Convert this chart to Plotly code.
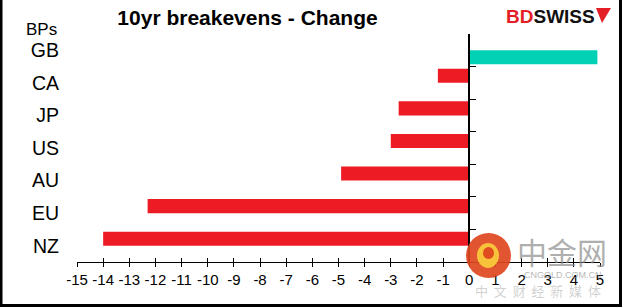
import plotly.graph_objects as go

categories = ["GB", "CA", "JP", "US", "AU", "EU", "NZ"]
values = [4.9, -1.2, -2.7, -3.0, -4.9, -12.3, -14.0]
x_ticks = list(range(-15, 6))
title_text = "10yr breakevens - Change"
unit_label = "BPs"

W, H = 622, 307
L, R, T, B = 77, 22, 34, 45
PW, PH = W - L - R, H - T - B


def px(p):
    return (p - L) / PW


def py(p):
    return (H - B - p) / PH


neg_vals = [v if v < 0 else None for v in values]
pos_vals = [v if v >= 0 else None for v in values]

FONT = "Liberation Sans, Arial, sans-serif"

fig = go.Figure()
fig.add_trace(go.Bar(y=categories, x=neg_vals, orientation="h",
                     marker=dict(color="#ED1C24", line=dict(width=0)),
                     xaxis="x", yaxis="y", hoverinfo="skip"))
fig.add_trace(go.Bar(y=categories, x=pos_vals, orientation="h",
                     marker=dict(color="#03D1B6", line=dict(width=0)),
                     xaxis="x", yaxis="y", hoverinfo="skip"))
# helper trace for the label axis / cross ticks axis
fig.add_trace(go.Scatter(y=categories, x=[0] * len(categories), mode="markers",
                         marker=dict(opacity=0), xaxis="x2", yaxis="y2",
                         hoverinfo="skip", showlegend=False))

yr = [len(categories) - 0.5, -0.5]
xr = [x_ticks[0], x_ticks[-1]]
zero_pos = (0 - xr[0]) / (xr[1] - xr[0])

shapes = [
    # frame
    dict(type="rect", xref="paper", yref="paper", x0=px(1), x1=px(620.5), y0=py(-5), y1=py(305.5),
         line=dict(color="black", width=3), layer="above"),
    # logo pennant
    dict(type="path", xref="paper", yref="paper",
         path=f"M {px(596)},{py(8)} L {px(611)},{py(8)} L {px(602)},{py(23)} Z",
         fillcolor="#E31E24", line=dict(width=0), layer="above"),
    # watermark circle
    dict(type="circle", xref="paper", yref="paper", x0=px(466), x1=px(511), y0=py(233), y1=py(278),
         fillcolor="rgba(222,70,30,0.92)", line=dict(width=0), layer="above"),
    dict(type="circle", xref="paper", yref="paper", x0=px(477), x1=px(499), y0=py(243), y1=py(268),
         fillcolor="rgba(250,200,60,0.95)", line=dict(width=0), layer="above"),
    dict(type="circle", xref="paper", yref="paper", x0=px(483), x1=px(494), y0=py(247), y1=py(259),
         fillcolor="rgba(222,70,30,0.95)", line=dict(width=0), layer="above"),
]

annotations = [
    dict(text=unit_label, xref="paper", yref="paper", x=px(59), y=py(30), xanchor="right", yanchor="middle",
         showarrow=False, font=dict(family=FONT, size=17, color="black")),
    dict(text="<b><span style='color:#E31E24'>BD</span>SWISS</b>", xref="paper", yref="paper",
         x=px(504), y=py(16.5), xanchor="left", yanchor="middle",
         showarrow=False, font=dict(family=FONT, size=19, color="#111")),
    dict(text="中金网", xref="paper", yref="paper", x=px(562), y=py(251), xanchor="center", yanchor="middle",
         showarrow=False, font=dict(family="Noto Sans CJK SC", size=30, color="rgba(140,140,140,0.7)")),
    dict(text="CNGOLD.COM.CN", xref="paper", yref="paper", x=px(563), y=py(275), xanchor="center", yanchor="middle",
         showarrow=False, font=dict(family=FONT, size=9, color="rgba(150,150,150,0.7)")),
    dict(text="中  文  财  经  新  媒  体", xref="paper", yref="paper", x=px(538), y=py(290), xanchor="center", yanchor="middle",
         showarrow=False, font=dict(family="Noto Sans CJK SC", size=13, color="rgba(170,170,170,0.55)")),
]

fig.update_layout(
    width=W, height=H,
    margin=dict(l=L, r=R, t=T, b=B),
    paper_bgcolor="white", plot_bgcolor="white",
    barmode="group", bargap=0.136, bargroupgap=0,
    showlegend=False,
    title=dict(text=f"<b>{title_text}</b>", x=247.5 / W, xref="container", xanchor="center",
               y=1 - 18 / H, yref="container", yanchor="middle",
               font=dict(family=FONT, size=21, color="black")),
    xaxis=dict(range=xr, tickvals=x_ticks, ticktext=[str(v) for v in x_ticks],
               showgrid=False, zeroline=False, showline=True, linecolor="black", linewidth=1,
               ticks="outside", ticklen=4, tickcolor="black",
               tickfont=dict(family=FONT, size=15, color="black"), anchor="y"),
    xaxis2=dict(range=xr, tickvals=x_ticks, overlaying="x", anchor="y", showticklabels=False,
                showgrid=False, zeroline=False, showline=False, ticks="inside", ticklen=4, tickcolor="black"),
    yaxis=dict(range=yr, categoryorder="array", categoryarray=categories, showticklabels=False,
               anchor="free", position=zero_pos, showgrid=False, zeroline=False,
               showline=True, linecolor="black", linewidth=1.5,
               ticks="inside", ticklen=6, tickcolor="black", tickson="boundaries"),
    yaxis2=dict(range=yr, categoryorder="array", categoryarray=categories, overlaying="y",
                anchor="free", position=0, side="left", showgrid=False, zeroline=False, showline=False,
                ticks="", ticklabelstandoff=18,
                tickfont=dict(family=FONT, size=19.5, color="black")),
    shapes=shapes,
    annotations=annotations,
)

fig.write_html("out.html")
